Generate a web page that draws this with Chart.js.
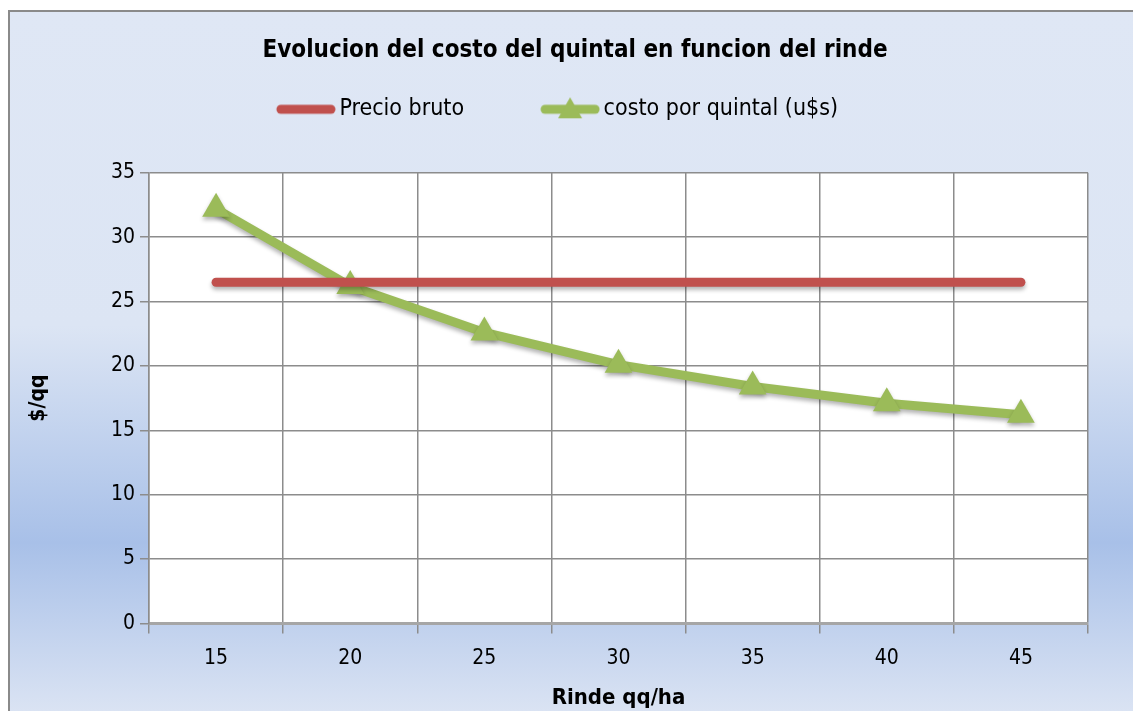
<!DOCTYPE html>
<html>
<head>
<meta charset="utf-8">
<script src="https://cdn.jsdelivr.net/npm/chart.js@4"></script>
<style>
  body { margin: 0; background: #ffffff; }
  #wrap { width: 1133px; height: 711px; position: relative; }
</style>
</head>
<body>
<div id="wrap"><canvas id="grafico" width="1133" height="711"></canvas></div>
<script>
// Datos del grafico
const rindes = ['15', '20', '25', '30', '35', '40', '45'];
const precioBruto = [26.5, 26.5, 26.5, 26.5, 26.5, 26.5, 26.5];
const costoQuintal = [32.2, 26.2, 22.6, 20.1, 18.4, 17.1, 16.2];
const ticksY = [0, 5, 10, 15, 20, 25, 30, 35];

const FUENTE = "'DejaVu Sans Condensed', 'Liberation Sans Narrow', sans-serif";
const ROJO = '#c0504d';
const VERDE = '#9bbb59';

// Iconos de la leyenda (linea a la derecha, espacio libre a la izquierda)
function iconoLeyenda(color, triangulo) {
    const c = document.createElement('canvas');
    c.width = 140; c.height = 28;
    const g = c.getContext('2d');
    g.strokeStyle = color;
    g.lineWidth = 9;
    g.lineCap = 'round';
    g.beginPath(); g.moveTo(85, 14); g.lineTo(135, 14); g.stroke();
    if (triangulo) {
        g.fillStyle = color;
        g.beginPath(); g.moveTo(110, 2); g.lineTo(122, 23); g.lineTo(98, 23); g.closePath(); g.fill();
    }
    return c;
}

// Fondo degradado, area blanca y ajustes de posicion
const fondo = {
    id: 'fondo',
    afterLayout(chart) {
        if (chart.titleBlock) { chart.titleBlock.left += 21; chart.titleBlock.right += 21; }
        if (chart.legend) { chart.legend.left -= 33; chart.legend.right -= 33; }
    },
    beforeDraw(chart) {
        const ctx = chart.ctx;
        const a = chart.chartArea;
        ctx.save();
        const grad = ctx.createLinearGradient(0, 10, 0, 711);
        grad.addColorStop(0, '#dfe7f5');
        grad.addColorStop(0.45, '#dce5f4');
        grad.addColorStop(0.76, '#a8c0e8');
        grad.addColorStop(1, '#dae3f3');
        ctx.fillStyle = grad;
        ctx.fillRect(9, 11, 1133, 711);
        ctx.strokeStyle = '#8a8a8a';
        ctx.lineWidth = 2;
        ctx.beginPath(); ctx.moveTo(9, 711); ctx.lineTo(9, 11); ctx.lineTo(1133, 11); ctx.stroke();
        ctx.fillStyle = '#ffffff';
        ctx.fillRect(a.left, a.top, a.right - a.left, a.bottom - a.top);
        ctx.restore();
    },
    beforeDatasetsDraw(chart) {
        chart.ctx.save();
        chart.ctx.shadowColor = 'rgba(0,0,0,0.3)';
        chart.ctx.shadowBlur = 4;
        chart.ctx.shadowOffsetY = 3;
    },
    afterDatasetsDraw(chart) {
        chart.ctx.restore();
    }
};

const ctx = document.getElementById('grafico').getContext('2d');
new Chart(ctx, {
    type: 'line',
    data: {
        labels: rindes,
        datasets: [{
            label: 'Precio bruto',
            data: precioBruto,
            borderColor: ROJO,
            backgroundColor: ROJO,
            borderWidth: 9,
            borderCapStyle: 'round',
            pointRadius: 0
        }, {
            label: 'costo por quintal (u$s)',
            data: costoQuintal,
            borderColor: VERDE,
            backgroundColor: VERDE,
            borderWidth: 9,
            pointStyle: 'triangle',
            pointRadius: 16,
            pointBorderWidth: 0,
            pointBackgroundColor: VERDE
        }]
    },
    options: {
        responsive: false,
        animation: false,
        layout: { padding: { left: 20, right: 45, top: 20, bottom: 0 } },
        plugins: {
            title: {
                display: true,
                text: 'Evolucion del costo del quintal en funcion del rinde',
                color: '#000000',
                font: { family: FUENTE, size: 24, weight: 'bold' },
                padding: { top: 16, bottom: 29 }
            },
            subtitle: {
                // separador entre la leyenda y el grafico
                display: true,
                text: ' ',
                weight: 500,
                font: { family: FUENTE, size: 10 },
                padding: { top: 0, bottom: 30 }
            },
            legend: {
                labels: {
                    usePointStyle: true,
                    pointStyleWidth: 124,
                    color: '#000000',
                    font: { family: FUENTE, size: 23 },
                    padding: 4,
                    generateLabels(chart) {
                        return chart.data.datasets.map((d, i) => ({
                            text: d.label,
                            fontColor: '#000000',
                            pointStyle: iconoLeyenda(d.borderColor, i === 1),
                            datasetIndex: i,
                            lineWidth: 0,
                            strokeStyle: 'transparent',
                            fillStyle: 'transparent'
                        }));
                    }
                }
            },
            tooltip: { enabled: false }
        },
        scales: {
            x: {
                offset: true,
                grid: { offset: true, color: '#8c8c8c', lineWidth: 1.5, tickLength: 10 },
                border: { color: '#a6a6a6', width: 3 },
                ticks: { color: '#000000', font: { family: FUENTE, size: 21 }, padding: 13 },
                title: { display: true, text: 'Rinde qq/ha', color: '#000000', font: { family: FUENTE, size: 22, weight: 'bold' }, padding: { top: 0, bottom: 0 } }
            },
            y: {
                min: 0, max: 35,
                afterBuildTicks(s) { s.ticks = ticksY.map(v => ({ value: v })); },
                afterFit(s) { s.width = 129; },
                grid: { color: '#8c8c8c', lineWidth: 1.5, tickLength: 9 },
                border: { color: '#8c8c8c', width: 1.5 },
                ticks: { color: '#000000', font: { family: FUENTE, size: 21 }, padding: 5 },
                title: { display: true, text: '$/qq', color: '#000000', font: { family: FUENTE, size: 21, weight: 'bold' }, padding: { top: 6, bottom: 4 } }
            }
        }
    },
    plugins: [fondo]
});
</script>
</body>
</html>
